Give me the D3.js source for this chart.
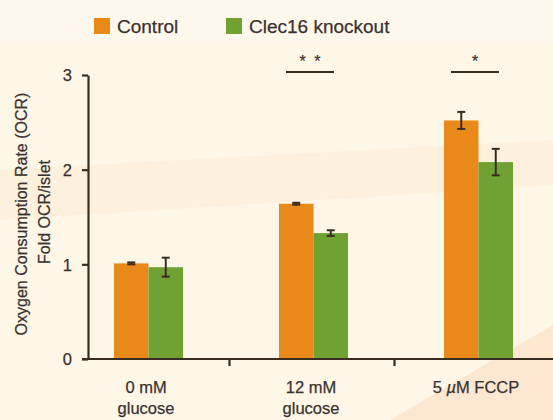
<!DOCTYPE html>
<html><head><meta charset="utf-8">
<script src="https://cdn.jsdelivr.net/npm/d3@7"></script>
<style>body{margin:0;background:#fef6e7;}svg{display:block;font-family:"Liberation Sans",Arial,sans-serif;}
text{stroke:#3a3230;stroke-width:0.25px;}</style>
</head><body>
<svg id="c" width="553" height="420"></svg>
<script>
const categories = [["0 mM","glucose"],["12 mM","glucose"],["5 µM FCCP"]];
const seriesNames = ["Control","Clec16 knockout"];
const controlValues = [1.01, 1.64, 2.52];
const controlErrors = [0.01, 0.01, 0.09];
const knockoutValues = [0.97, 1.33, 2.08];
const knockoutErrors = [0.10, 0.03, 0.14];
const yTicks = [0,1,2,3];
const significance = [null, "* *", "*"];

const colors = ["#e8891a", "#6fa232"];
const ink = "#3b2c22";
const txt = "#3a3230";
const svg = d3.select("#c");

// background
svg.append("rect").attr("width",553).attr("height",420).attr("fill","#fef6e7");
svg.append("polygon").attr("points","0,170 553,140 553,185 0,220").attr("fill","#fcecd6").attr("opacity",0.55);
svg.append("polygon").attr("points","0,0 553,0 553,42 0,42").attr("fill","#fef9ee").attr("opacity",0.8);
svg.append("polygon").attr("points","390,420 553,325 553,420").attr("fill","#fbe3c6").attr("opacity",0.7);

const names = categories.map(c=>c.join(" "));
const x = d3.scaleBand().domain(names).range([66.5,561.5]).padding(0);
const inner = d3.scaleBand().domain(seriesNames).range([-35,34]);
const y = d3.scaleLinear().domain([0,3]).range([359,75]);

const data = names.map((n,i)=>({n, vals:[
  {s:seriesNames[0], v:controlValues[i], e:controlErrors[i]},
  {s:seriesNames[1], v:knockoutValues[i], e:knockoutErrors[i]}]}));

const g = svg.append("g").selectAll("g").data(data).join("g")
  .attr("transform", d=>`translate(${x(d.n)+x.bandwidth()/2},0)`);
g.selectAll("rect").data(d=>d.vals).join("rect")
  .attr("x", d=>inner(d.s)).attr("width", inner.bandwidth())
  .attr("y", d=>y(d.v)).attr("height", d=>y(0)-y(d.v))
  .attr("fill",(d,i)=>colors[i]);
const eb = g.selectAll("g.eb").data(d=>d.vals).join("g").attr("class","eb")
  .attr("transform", d=>`translate(${inner(d.s)+inner.bandwidth()/2},0)`);
eb.append("line").attr("y1",d=>y(d.v+d.e)).attr("y2",d=>y(d.v-d.e)).attr("stroke",ink).attr("stroke-width",2);
eb.append("line").attr("x1",-4).attr("x2",4).attr("y1",d=>y(d.v+d.e)).attr("y2",d=>y(d.v+d.e)).attr("stroke",ink).attr("stroke-width",2);
eb.append("line").attr("x1",-4).attr("x2",4).attr("y1",d=>y(d.v-d.e)).attr("y2",d=>y(d.v-d.e)).attr("stroke",ink).attr("stroke-width",2);

// y axis
const ya = svg.append("g").attr("transform","translate(88,0)")
  .call(d3.axisLeft(y).tickValues(yTicks).tickSize(6).tickSizeOuter(0).tickFormat(d3.format("d")));
ya.select(".domain").attr("stroke",ink).attr("stroke-width",2.2);
ya.selectAll(".tick line").attr("stroke",ink).attr("stroke-width",2.2);
ya.selectAll(".tick text").attr("font-size",16.5).attr("fill",txt).attr("x",-16).attr("dy","0.36em")
  .attr("font-family","Liberation Sans, Arial, sans-serif");

// x axis
svg.append("line").attr("x1",82).attr("x2",553).attr("y1",y(0)).attr("y2",y(0)).attr("stroke",ink).attr("stroke-width",2.2);
const seps = names.slice(1).map(n=>x(n)-2);
svg.selectAll("line.sep").data(seps).join("line").attr("class","sep")
  .attr("x1",d=>d).attr("x2",d=>d).attr("y1",y(0)).attr("y2",y(0)+7).attr("stroke",ink).attr("stroke-width",2.2);

// category labels (µ rendered italic)
const cl = svg.append("g").selectAll("text").data(categories).join("text")
  .attr("transform",(d,i)=>`translate(${x(names[i])+x.bandwidth()/2-3},393)`)
  .attr("text-anchor","middle").attr("font-size",16.5).attr("fill",txt);
cl.each(function(lines){
  const t = d3.select(this);
  lines.forEach((line,li)=>{
    const parts = line.split(/(µ)/).filter(p=>p.length);
    parts.forEach((p,pi)=>{
      const s = t.append("tspan").text(p);
      if(pi===0){ s.attr("x",0).attr("dy", li?21:0); }
      if(p==="µ") s.attr("font-style","italic");
    });
  });
});

// y labels
svg.append("text").attr("transform","translate(27,214) rotate(-90)").attr("text-anchor","middle")
  .attr("font-size",16).attr("fill",txt).text("Oxygen Consumption Rate (OCR)");
svg.append("text").attr("transform","translate(50,212) rotate(-90)").attr("text-anchor","middle")
  .attr("font-size",16).attr("fill",txt).text("Fold OCR/islet");

// significance
data.forEach((d,i)=>{
  if(!significance[i]) return;
  const cx = x(d.n)+x.bandwidth()/2-4;
  svg.append("line").attr("x1",cx-24).attr("x2",cx+24).attr("y1",72).attr("y2",72).attr("stroke",ink).attr("stroke-width",2.2);
  svg.append("text").attr("x",cx).attr("y",67).attr("text-anchor","middle").attr("font-size",16)
    .attr("word-spacing",4).attr("fill",txt).text(significance[i]);
});

// legend
const lx = [94, 226];
const lg = svg.append("g").selectAll("g").data(seriesNames).join("g").attr("transform",(d,i)=>`translate(${lx[i]},18)`);
lg.append("rect").attr("width",16).attr("height",16).attr("fill",(d,i)=>colors[i]);
lg.append("text").attr("x",23).attr("y",15).attr("font-size",19).attr("fill",txt).text(d=>d);
</script>
</body></html>
